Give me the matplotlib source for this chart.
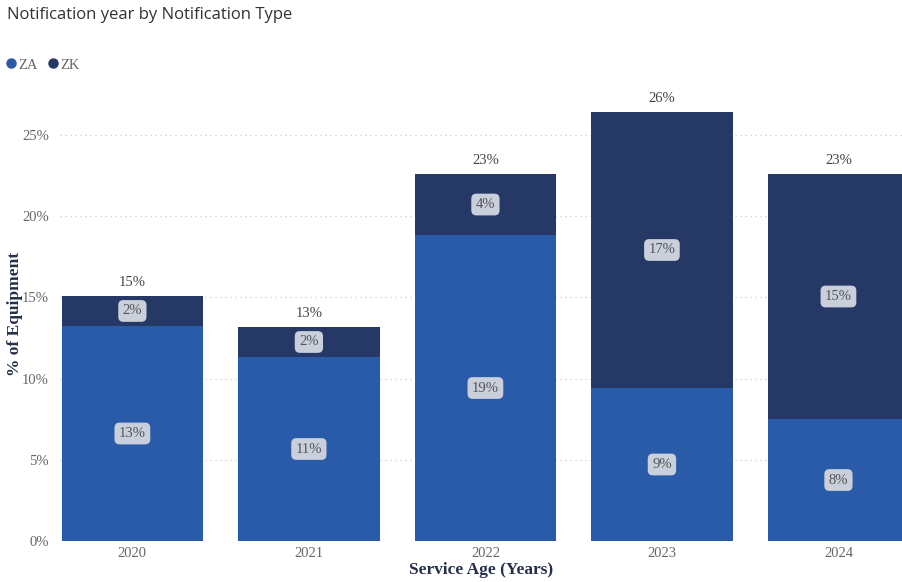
import matplotlib
matplotlib.use("Agg")
import matplotlib.pyplot as plt
from matplotlib.lines import Line2D

years = ["2020", "2021", "2022", "2023", "2024"]
za_pct = [13.24, 11.33, 18.84, 9.42, 7.51]
zk_pct = [1.85, 1.85, 3.76, 17.00, 15.09]
y_ticks = [0, 5, 10, 15, 20, 25]

ZA_COLOR = "#2A5BA9"
ZK_COLOR = "#263966"
SERIF = "Liberation Serif"

fig = plt.figure(figsize=(9.02, 5.82), dpi=100)
ax = fig.add_axes([60 / 902, 1 - 541 / 582, (902 - 60) / 902, (541 - 86.3) / 582])

x = list(range(len(years)))
totals = [a + b for a, b in zip(za_pct, zk_pct)]

ax.bar(x, za_pct, width=0.8, color=ZA_COLOR, zorder=2)
ax.bar(x, zk_pct, width=0.8, bottom=za_pct, color=ZK_COLOR, zorder=2)

box = dict(boxstyle="round,pad=0.3,rounding_size=0.35", facecolor="#C9CFDB", edgecolor="none")
for i in x:
    ax.text(i, za_pct[i] / 2, f"{round(za_pct[i])}%", ha="center", va="center",
            fontsize=10.5, color="#555555", family=SERIF, bbox=box, zorder=3)
    ax.text(i, za_pct[i] + zk_pct[i] / 2, f"{round(zk_pct[i])}%", ha="center", va="center",
            fontsize=10.5, color="#555555", family=SERIF, bbox=box, zorder=3)
    ax.text(i, totals[i] + 0.45, f"{round(totals[i])}%", ha="center", va="bottom",
            fontsize=10.5, color="#444444", family=SERIF, zorder=3)

ax.set_xlim(-0.41, 4.36)
ax.set_ylim(0, 28)
ax.set_yticks(y_ticks)
ax.set_yticklabels([f"{t}%" for t in y_ticks])
ax.set_xticks(x)
ax.set_xticklabels(years)
ax.tick_params(axis="both", length=0, labelsize=10.5, labelcolor="#666666")
ax.tick_params(axis="y", pad=8)
ax.tick_params(axis="x", pad=4)
for lab in ax.get_xticklabels() + ax.get_yticklabels():
    lab.set_family(SERIF)

ax.grid(axis="y", linestyle=(0, (1, 3)), color="#CCCCCC", linewidth=0.9, zorder=0)
for s in ax.spines.values():
    s.set_visible(False)

ax.set_xlabel("Service Age (Years)", fontsize=12.5, fontweight="bold", family=SERIF,
              color="#252F4A", labelpad=2)
ax.set_ylabel("% of Equipment", fontsize=12.5, fontweight="bold", family=SERIF,
              color="#252F4A")
ax.yaxis.set_label_coords((23 - 60) / 842, 0.5)

fig.text(7 / 902, 1 - 15 / 582, "Notification year by Notification Type", ha="left", va="center",
         fontsize=12, color="#333333", family="Open Sans")

handles = [Line2D([], [], marker="o", linestyle="none", markersize=6.5, color=ZA_COLOR),
           Line2D([], [], marker="o", linestyle="none", markersize=6.5, color=ZK_COLOR)]
fig.legend(handles, ["ZA", "ZK"], loc="center left", bbox_to_anchor=(-4 / 902, 1 - 65 / 582),
           ncol=2, frameon=False, handletextpad=-0.1, columnspacing=0.5, handlelength=1.2,
           borderaxespad=0, prop={"family": SERIF, "size": 10.5}, labelcolor="#666666")

fig.savefig("out.png", dpi=100)
